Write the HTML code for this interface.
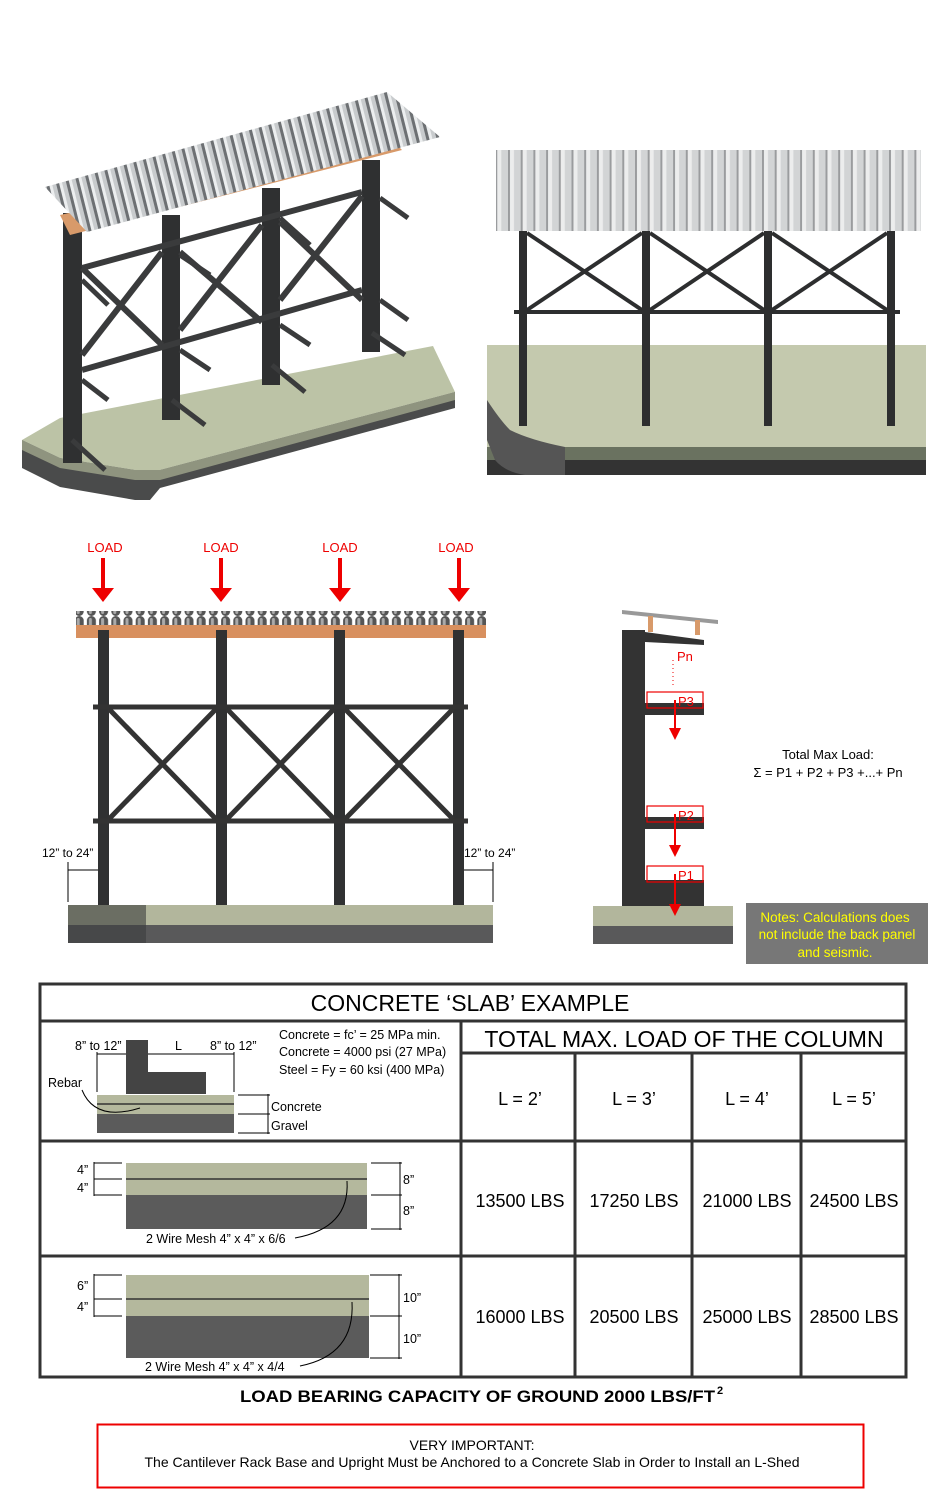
<!DOCTYPE html>
<html><head><meta charset="utf-8"><style>
html,body{margin:0;padding:0;background:#fff;}
body{width:950px;height:1500px;position:relative;overflow:hidden;font-family:"Liberation Sans",Arial,sans-serif;}
svg{position:absolute;left:0;top:0;}
</style></head><body>
<svg width="950" height="1500" viewBox="0 0 950 1500" xmlns="http://www.w3.org/2000/svg" font-family="Liberation Sans, Arial, sans-serif">
<defs>
<pattern id="corr" width="10" height="10" patternUnits="userSpaceOnUse" patternTransform="rotate(-14)">
<rect width="10" height="10" fill="#c8cbcd"/><rect width="3" height="10" fill="#6d7073"/><rect x="3" width="3" height="10" fill="#eceeef"/>
</pattern>
<pattern id="vcorr" width="12.7" height="10" patternUnits="userSpaceOnUse">
<rect width="12.7" height="10" fill="#d2d4d5"/><rect width="2" height="10" fill="#9a9c9e"/><rect x="2" width="4" height="10" fill="#eceded"/>
</pattern>
<pattern id="fcorr" width="12.2" height="14" patternUnits="userSpaceOnUse">
<rect width="12.2" height="14" fill="#fff"/><rect x="1.5" y="0" width="9" height="14" rx="4.5" fill="#555"/><rect x="3.5" y="2" width="3" height="10" rx="1.5" fill="#aaa"/>
</pattern>
</defs>

<!-- ========== TOP LEFT ISO ========== -->
<polygon points="22,440 22,468 60,487 135,500 150,500 160,488 455,408 455,392 160,470 135,470 60,458" fill="#4a4b4b"/>
<polygon points="22,440 60,418 433,346 455,392 160,470 135,470 60,458" fill="#bcc3a6"/>
<polygon points="22,440 60,458 135,470 160,470 455,392 455,400 160,480 135,480 60,468 22,450" fill="#8f947f"/>
<g fill="#2f3031">
<rect x="63" y="213" width="19" height="250"/>
<rect x="162" y="215" width="18" height="205"/>
<rect x="262" y="188" width="18" height="197"/>
<rect x="362" y="160" width="18" height="192"/>
</g>
<g stroke="#3a3b3c" stroke-width="6" fill="none">
<line x1="82" y1="268" x2="362" y2="192"/>
<line x1="82" y1="370" x2="362" y2="290"/>
<line x1="82" y1="268" x2="162" y2="345"/><line x1="82" y1="355" x2="162" y2="252"/>
<line x1="180" y1="252" x2="262" y2="322"/><line x1="180" y1="330" x2="262" y2="225"/>
<line x1="280" y1="222" x2="362" y2="300"/><line x1="280" y1="300" x2="362" y2="196"/>
</g>
<g stroke="#3a3b3c" stroke-width="5">
<line x1="82" y1="280" x2="108" y2="305"/><line x1="82" y1="380" x2="108" y2="400"/>
<line x1="180" y1="255" x2="210" y2="275"/><line x1="180" y1="350" x2="210" y2="370"/>
<line x1="280" y1="218" x2="310" y2="245"/><line x1="280" y1="325" x2="310" y2="345"/>
<line x1="380" y1="198" x2="408" y2="218"/><line x1="380" y1="300" x2="408" y2="320"/>
<line x1="72" y1="440" x2="105" y2="470"/><line x1="172" y1="400" x2="205" y2="425"/>
<line x1="272" y1="365" x2="305" y2="392"/><line x1="372" y1="333" x2="405" y2="355"/>
</g>
<polygon points="60,215 392,140 402,150 70,235" fill="#d89a6a"/>
<polygon points="45,187 387,92 440,137 87,232" fill="url(#corr)"/>

<!-- ========== TOP RIGHT ========== -->
<rect x="487" y="345" width="439" height="102" fill="#c4c9ae"/>
<rect x="487" y="447" width="439" height="14" fill="#6a7260"/>
<rect x="487" y="460" width="439" height="15" fill="#333"/>
<path d="M487,400 Q500,420 510,430 Q530,440 565,447 L565,475 L525,475 Q505,472 495,460 L487,440 Z" fill="#555"/>
<g fill="#2d2e2f">
<rect x="519" y="231" width="8" height="195"/><rect x="642" y="231" width="8" height="195"/>
<rect x="764" y="231" width="8" height="195"/><rect x="887" y="231" width="8" height="195"/>
</g>
<g stroke="#2d2e2f" stroke-width="4">
<line x1="514" y1="312" x2="900" y2="312"/>
<line x1="527" y1="233" x2="642" y2="310"/><line x1="527" y1="310" x2="642" y2="233"/>
<line x1="650" y1="233" x2="764" y2="310"/><line x1="650" y1="310" x2="764" y2="233"/>
<line x1="772" y1="233" x2="887" y2="310"/><line x1="772" y1="310" x2="887" y2="233"/>
</g>
<rect x="496" y="150" width="425" height="81" fill="url(#vcorr)"/>

<!-- ========== FRONT ELEVATION ========== -->
<g font-size="13" fill="#e00" text-anchor="middle">
<text x="105" y="552">LOAD</text><text x="221" y="552">LOAD</text><text x="340" y="552">LOAD</text><text x="456" y="552">LOAD</text>
</g>
<g fill="#e00">
<rect x="101" y="558" width="4" height="30"/><polygon points="92,588 114,588 103,602"/>
<rect x="219" y="558" width="4" height="30"/><polygon points="210,588 232,588 221,602"/>
<rect x="338" y="558" width="4" height="30"/><polygon points="329,588 351,588 340,602"/>
<rect x="457" y="558" width="4" height="30"/><polygon points="448,588 470,588 459,602"/>
</g>
<rect x="76" y="611" width="410" height="15" fill="url(#fcorr)"/>
<rect x="76" y="625" width="410" height="13" fill="#d8905f"/>
<g fill="#303132">
<rect x="98" y="630" width="11" height="275"/><rect x="216" y="630" width="11" height="275"/>
<rect x="334" y="630" width="11" height="275"/><rect x="453" y="630" width="11" height="275"/>
</g>
<g stroke="#333" stroke-width="5">
<line x1="93" y1="707" x2="468" y2="707"/><line x1="93" y1="821" x2="468" y2="821"/>
<line x1="109" y1="709" x2="216" y2="819"/><line x1="109" y1="819" x2="216" y2="709"/>
<line x1="227" y1="709" x2="334" y2="819"/><line x1="227" y1="819" x2="334" y2="709"/>
<line x1="345" y1="709" x2="453" y2="819"/><line x1="345" y1="819" x2="453" y2="709"/>
</g>
<rect x="68" y="905" width="425" height="20" fill="#b2b69c"/>
<rect x="68" y="925" width="425" height="18" fill="#59595a"/>
<rect x="68" y="905" width="78" height="38" fill="#3c3d3d" opacity="0.6"/>
<g font-size="12" fill="#000">
<text x="42" y="857">12” to 24”</text><text x="464" y="857">12” to 24”</text>
</g>
<g stroke="#000" stroke-width="1">
<line x1="68" y1="862" x2="68" y2="902"/><line x1="68" y1="870" x2="98" y2="870"/>
<line x1="493" y1="862" x2="493" y2="902"/><line x1="464" y1="870" x2="493" y2="870"/>
</g>

<!-- ========== SIDE VIEW ========== -->
<polygon points="622,610 718,620 718,624 622,614" fill="#999"/>
<rect x="648" y="616" width="5" height="16" fill="#d89a6a"/><rect x="695" y="620" width="5" height="15" fill="#d89a6a"/>
<rect x="622" y="630" width="23" height="276" fill="#333"/>
<polygon points="645,632 704,640 704,645 645,642" fill="#333"/>
<rect x="645" y="703" width="59" height="12" fill="#333"/>
<rect x="645" y="817" width="59" height="12" fill="#333"/>
<rect x="645" y="880" width="59" height="26" fill="#333"/>
<rect x="593" y="906" width="140" height="20" fill="#b2b69c"/>
<rect x="593" y="926" width="140" height="18" fill="#59595a"/>
<line x1="673" y1="660" x2="673" y2="688" stroke="#e00" stroke-dasharray="1,3"/>
<g fill="none" stroke="#e00" stroke-width="1.2">
<rect x="647" y="692" width="56" height="16"/><rect x="647" y="806" width="56" height="16"/><rect x="647" y="866" width="56" height="16"/>
</g>
<g fill="#e00">
<rect x="674" y="700" width="2" height="30"/><polygon points="669,728 681,728 675,740"/>
<rect x="674" y="814" width="2" height="34"/><polygon points="669,845 681,845 675,857"/>
<rect x="674" y="874" width="2" height="34"/><polygon points="669,904 681,904 675,916"/>
</g>
<g font-size="13" fill="#e00">
<text x="677" y="661">Pn</text><text x="678" y="706">P3</text><text x="678" y="820">P2</text><text x="678" y="880">P1</text>
</g>
<g font-size="13" fill="#000" text-anchor="middle">
<text x="828" y="759">Total Max Load:</text><text x="828" y="777">Σ = P1 + P2 + P3 +...+ Pn</text>
</g>
<rect x="746" y="903" width="182" height="61" fill="#777"/>
<g font-size="13.5" fill="#ff0" text-anchor="middle">
<text x="835" y="922">Notes: Calculations does</text><text x="837" y="939">not include the back panel</text><text x="835" y="957">and seismic.</text>
</g>

<!-- ========== TABLE ========== -->
<g stroke="#333" fill="none">
<rect x="40" y="984" width="866" height="393" stroke-width="3"/>
<line x1="40" y1="1021" x2="906" y2="1021" stroke-width="3"/>
<line x1="40" y1="1141" x2="906" y2="1141" stroke-width="3"/>
<line x1="40" y1="1256" x2="906" y2="1256" stroke-width="3"/>
<line x1="461" y1="1021" x2="461" y2="1377" stroke-width="3"/>
<line x1="461" y1="1053" x2="906" y2="1053" stroke-width="3"/>
<line x1="575" y1="1053" x2="575" y2="1377" stroke-width="3"/>
<line x1="692" y1="1053" x2="692" y2="1377" stroke-width="3"/>
<line x1="801" y1="1053" x2="801" y2="1377" stroke-width="3"/>
</g>
<text x="470" y="1011" font-size="23" text-anchor="middle">CONCRETE ‘SLAB’ EXAMPLE</text>
<text x="684" y="1047" font-size="23" text-anchor="middle">TOTAL MAX. LOAD OF THE COLUMN</text>
<g font-size="18" text-anchor="middle">
<text x="520" y="1105">L = 2’</text><text x="634" y="1105">L = 3’</text><text x="747" y="1105">L = 4’</text><text x="854" y="1105">L = 5’</text>
<text x="520" y="1207">13500 LBS</text><text x="634" y="1207">17250 LBS</text><text x="747" y="1207">21000 LBS</text><text x="854" y="1207">24500 LBS</text>
<text x="520" y="1323">16000 LBS</text><text x="634" y="1323">20500 LBS</text><text x="747" y="1323">25000 LBS</text><text x="854" y="1323">28500 LBS</text>
</g>
<g font-size="12.5">
<text x="279" y="1039">Concrete = fc’ = 25 MPa min.</text>
<text x="279" y="1056">Concrete = 4000 psi (27 MPa)</text>
<text x="279" y="1074">Steel = Fy = 60 ksi (400 MPa)</text>
<text x="75" y="1050">8” to 12”</text><text x="175" y="1050">L</text><text x="210" y="1050">8” to 12”</text>
<text x="48" y="1087">Rebar</text>
<text x="271" y="1111">Concrete</text><text x="271" y="1130">Gravel</text>
</g>
<polygon points="126,1040 148,1040 148,1072 206,1072 206,1094 126,1094" fill="#444"/>
<rect x="97" y="1095" width="137" height="19" fill="#b4b89d"/>
<rect x="97" y="1114" width="137" height="19" fill="#5b5b5b"/>
<line x1="97" y1="1104" x2="234" y2="1104" stroke="#333" stroke-width="1.5"/>
<g stroke="#000" stroke-width="1" fill="none">
<line x1="97" y1="1052" x2="97" y2="1092"/><line x1="234" y1="1052" x2="234" y2="1092"/>
<line x1="97" y1="1054" x2="126" y2="1054"/><line x1="148" y1="1054" x2="205" y2="1054"/><line x1="205" y1="1054" x2="234" y2="1054"/>
<line x1="238" y1="1095" x2="270" y2="1095"/><line x1="238" y1="1114" x2="270" y2="1114"/><line x1="238" y1="1133" x2="270" y2="1133"/>
<line x1="268" y1="1094" x2="268" y2="1134"/>
<path d="M82,1090 Q95,1122 140,1108"/>
</g>
<rect x="126" y="1163" width="241" height="32" fill="#b4b89d"/>
<rect x="126" y="1195" width="241" height="34" fill="#5b5b5b"/>
<line x1="126" y1="1179" x2="367" y2="1179" stroke="#333" stroke-width="1.5"/>
<g stroke="#000" stroke-width="1" fill="none">
<line x1="94" y1="1162" x2="94" y2="1196"/><line x1="94" y1="1163" x2="122" y2="1163"/><line x1="94" y1="1179" x2="122" y2="1179"/><line x1="94" y1="1195" x2="122" y2="1195"/>
<line x1="400" y1="1162" x2="400" y2="1230"/><line x1="371" y1="1163" x2="402" y2="1163"/><line x1="371" y1="1195" x2="402" y2="1195"/><line x1="371" y1="1229" x2="402" y2="1229"/>
<path d="M295,1238 Q350,1228 347,1181"/>
</g>
<g font-size="12.5">
<text x="77" y="1174">4”</text><text x="77" y="1192">4”</text><text x="403" y="1184">8”</text><text x="403" y="1215">8”</text>
<text x="146" y="1243">2 Wire Mesh 4” x 4” x 6/6</text>
</g>
<rect x="126" y="1275" width="243" height="41" fill="#b4b89d"/>
<rect x="126" y="1316" width="243" height="42" fill="#5b5b5b"/>
<line x1="126" y1="1299" x2="369" y2="1299" stroke="#333" stroke-width="1.5"/>
<g stroke="#000" stroke-width="1" fill="none">
<line x1="94" y1="1274" x2="94" y2="1317"/><line x1="94" y1="1275" x2="122" y2="1275"/><line x1="94" y1="1299" x2="122" y2="1299"/><line x1="94" y1="1316" x2="122" y2="1316"/>
<line x1="399" y1="1274" x2="399" y2="1359"/><line x1="370" y1="1275" x2="402" y2="1275"/><line x1="370" y1="1316" x2="402" y2="1316"/><line x1="370" y1="1358" x2="402" y2="1358"/>
<path d="M300,1366 Q355,1355 352,1302"/>
</g>
<g font-size="12.5">
<text x="77" y="1290">6”</text><text x="77" y="1311">4”</text><text x="403" y="1302">10”</text><text x="403" y="1343">10”</text>
<text x="145" y="1371">2 Wire Mesh 4” x 4” x 4/4</text>
</g>

<text x="240" y="1402" font-size="17" font-weight="bold" textLength="475" lengthAdjust="spacingAndGlyphs">LOAD BEARING CAPACITY OF GROUND 2000 LBS/FT</text>
<text x="717" y="1394" font-size="11" font-weight="bold">2</text>

<rect x="97.5" y="1424.5" width="766" height="63" fill="none" stroke="#e00" stroke-width="2"/>
<g font-size="14" text-anchor="middle">
<text x="472" y="1450">VERY IMPORTANT:</text>
<text x="472" y="1467" textLength="655" lengthAdjust="spacingAndGlyphs">The Cantilever Rack Base and Upright Must be Anchored to a Concrete Slab in Order to Install an L-Shed</text>
</g>
</svg>
</body></html>
